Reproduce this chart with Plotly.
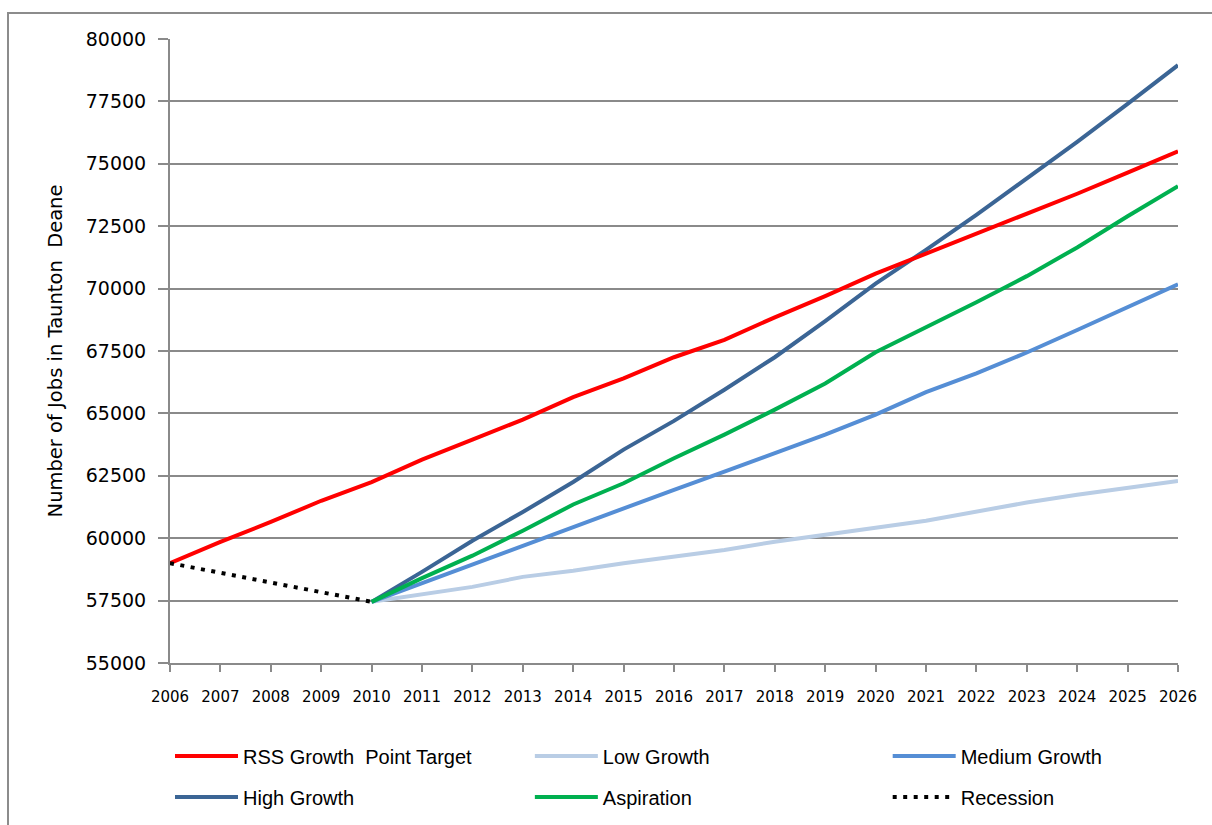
import plotly.graph_objects as go

years = list(range(2006, 2027))

rss_target = [59000, 59850, 60650, 61500, 62250, 63150, 63950, 64750, 65650, 66400,
              67250, 67950, 68850, 69700, 70600, 71400, 72200, 73000, 73800, 74650, 75500]
low_growth = [None, None, None, None, 57450, 57750, 58050, 58450, 58700, 59000,
              59250, 59530, 59860, 60160, 60420, 60700, 61070, 61430, 61740, 62000, 62290]
medium_growth = [None, None, None, None, 57450, 58200, 58950, 59720, 60470, 61220,
                 61940, 62670, 63420, 64150, 64950, 65850, 66600, 67440, 68340, 69260, 70170]
high_growth = [None, None, None, None, 57450, 58650, 59900, 61050, 62250, 63550,
               64700, 65950, 67250, 68700, 70200, 71550, 72950, 74400, 75880, 77400, 78950]
aspiration = [None, None, None, None, 57450, 58400, 59300, 60300, 61350, 62200,
              63200, 64150, 65150, 66200, 67450, 68450, 69450, 70500, 71650, 72900, 74100]
recession = [59000, None, None, None, 57450, None, None, None, None, None,
             None, None, None, None, None, None, None, None, None, None, None]

y_ticks = [55000, 57500, 60000, 62500, 65000, 67500, 70000, 72500, 75000, 77500, 80000]

fig = go.Figure()

def add(name, vals, color, legend, dash=None, width=4):
    fig.add_trace(go.Scatter(
        x=years, y=vals, name=name, mode="lines",
        line=dict(color=color, width=width, dash=dash),
        connectgaps=True, legend=legend, hoverinfo="skip",
    ))

add("Low Growth", low_growth, "#B9CDE5", "legend2")
add("Medium Growth", medium_growth, "#558ED5", "legend3")
add("High Growth", high_growth, "#3B6595", "legend4")
add("Aspiration", aspiration, "#00B050", "legend5")
add("RSS Growth  Point Target", rss_target, "#FF0000", "legend")
add("Recession", recession, "#000000", "legend6", dash="4px,6.5px", width=4)

grid = "#8A8A8A"
legend_common = dict(
    orientation="h", xanchor="left", yanchor="middle",
    font=dict(family="Liberation Sans, Arial, sans-serif", size=20, color="#000000"),
    itemwidth=63, bgcolor="rgba(0,0,0,0)",
)

col_x = [0.0, 0.357, 0.712]
row_y = [-0.149, -0.2148]

fig.update_layout(
    width=1212, height=825,
    margin=dict(l=170, r=34, t=39, b=162, autoexpand=False),
    paper_bgcolor="white", plot_bgcolor="white",
    showlegend=True,
    legend=dict(x=col_x[0], y=row_y[0], **legend_common),
    legend2=dict(x=col_x[1], y=row_y[0], **legend_common),
    legend3=dict(x=col_x[2], y=row_y[0], **legend_common),
    legend4=dict(x=col_x[0], y=row_y[1], **legend_common),
    legend5=dict(x=col_x[1], y=row_y[1], **legend_common),
    legend6=dict(x=col_x[2], y=row_y[1], **legend_common),
    xaxis=dict(
        range=[2006, 2026], tickmode="array", tickvals=years,
        ticktext=[str(y) for y in years],
        showgrid=False, zeroline=False,
        showline=True, linecolor=grid, linewidth=2,
        ticks="outside", ticklen=7, tickwidth=2, tickcolor=grid,
        tickfont=dict(family="DejaVu Sans", size=15, color="#000000"),
        ticklabelstandoff=12,
    ),
    yaxis=dict(
        range=[55000, 80000], tickmode="array", tickvals=y_ticks,
        ticktext=[str(v) for v in y_ticks],
        showgrid=True, gridcolor=grid, gridwidth=1.6,
        zeroline=False,
        showline=True, linecolor=grid, linewidth=2,
        ticks="outside", ticklen=10, tickwidth=2, tickcolor=grid,
        tickfont=dict(family="DejaVu Sans", size=19, color="#000000"),
        ticklabelstandoff=8,
        title=dict(text="Number of Jobs in Taunton  Deane",
                   font=dict(family="DejaVu Sans", size=19.5, color="#000000"),
                   standoff=18),
    ),
    shapes=[dict(type="rect", xref="paper", yref="paper",
                 x0=(8 - 170) / 1008, x1=(1240 - 170) / 1008,
                 y0=(663 - 850) / 624, y1=(663 - 13) / 624,
                 line=dict(color="#8C8C8C", width=2), fillcolor="rgba(0,0,0,0)",
                 layer="below")],
)

fig.write_html(
    "out.html",
    config={"displayModeBar": False},
    post_script="document.body.style.margin='0';document.body.style.overflow='hidden';",
)
